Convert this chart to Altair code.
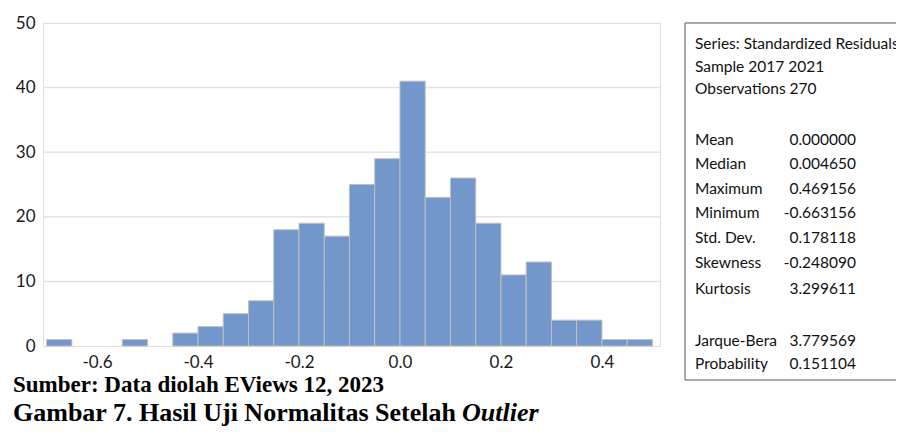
import altair as alt
import pandas as pd

# Histogram data (bin start, count), bin width 0.05
bin_start = [-0.70, -0.65, -0.60, -0.55, -0.50, -0.45, -0.40, -0.35, -0.30, -0.25,
             -0.20, -0.15, -0.10, -0.05, 0.00, 0.05, 0.10, 0.15, 0.20, 0.25,
             0.30, 0.35, 0.40, 0.45]
counts = [1, 0, 0, 1, 0, 2, 3, 5, 7, 18,
          19, 17, 25, 29, 41, 23, 26, 19, 11, 13,
          4, 4, 1, 1]
bin_width = 0.05

x_ticks = [-0.6, -0.4, -0.2, 0.0, 0.2, 0.4]
y_ticks = [0, 10, 20, 30, 40, 50]
grid_vals = [10, 20, 30, 40]

stat_labels = ["Series: Standardized Residuals", "Sample 2017 2021", "Observations 270",
               "Mean", "Median", "Maximum", "Minimum", "Std. Dev.", "Skewness", "Kurtosis",
               "Jarque-Bera", "Probability"]
stat_values = ["", "", "", "0.000000", "0.004650", "0.469156", "-0.663156", "0.178118",
               "-0.248090", "3.299611", "3.779569", "0.151104"]
stat_rows_y = [21, 44, 66, 117, 141, 166, 190, 215, 240, 266, 318, 341]

caption1 = "Sumber: Data diolah EViews 12, 2023"
caption2 = "Gambar 7. Hasil Uji Normalitas Setelah "
caption2_italic = "Outlier"

W, H = 617, 323
FONT = "Lato"

hist = pd.DataFrame({
    "start": bin_start,
    "end": [s + bin_width for s in bin_start],
    "count": counts,
})
hist = hist[hist["count"] > 0]

xscale = alt.Scale(domain=[-0.707, 0.515], nice=False, zero=False)
yscale = alt.Scale(domain=[0, 50], nice=False)

grid = alt.Chart(pd.DataFrame({"g": grid_vals})).mark_rule(
    color="#E4E4E4", strokeWidth=1.5
).encode(
    y=alt.Y("g:Q", scale=yscale, axis=None),
    x=alt.value(0), x2=alt.value(W),
)

hyphen_label = "datum.value < 0 ? '-' + format(abs(datum.value), '.1f') : format(datum.value, '.1f')"

bars = alt.Chart(hist).mark_rect(
    color="#7396CB", stroke="#BFBFBF", strokeWidth=1
).encode(
    x=alt.X("start:Q", scale=xscale,
            axis=alt.Axis(values=x_ticks, labelExpr=hyphen_label, title=None, grid=False,
                          domain=False, ticks=False, labelFont=FONT, labelFontSize=17,
                          labelColor="#1a1a1a", labelPadding=8)),
    x2="end:Q",
    y=alt.Y("count:Q", scale=yscale,
            axis=alt.Axis(values=y_ticks, title=None, grid=False, domain=False,
                          ticks=False, labelFont=FONT, labelFontSize=17,
                          labelColor="#1a1a1a", labelPadding=8)),
    y2=alt.datum(0),
)

one = pd.DataFrame({"a": [0]})
box = alt.Chart(one).mark_rect(fill="white", fillOpacity=0, stroke="#555555",
                              strokeWidth=1).encode(
    x=alt.value(642), x2=alt.value(890), y=alt.value(0), y2=alt.value(357)
)

stats = pd.DataFrame({"label": stat_labels, "value": stat_values, "yy": stat_rows_y})
pix = alt.Scale(domain=[0, H], range=[0, H])
stat_lab = alt.Chart(stats).mark_text(
    align="left", baseline="middle", font=FONT, fontSize=15.5, color="#111111"
).encode(x=alt.value(652), y=alt.Y("yy:Q", scale=pix, axis=None), text="label:N")
stat_val = alt.Chart(stats).mark_text(
    align="right", baseline="middle", font=FONT, fontSize=15.5, color="#111111"
).encode(x=alt.value(813), y=alt.Y("yy:Q", scale=pix, axis=None), text="value:N")

cap1 = alt.Chart(one).mark_text(
    align="left", baseline="alphabetic", font="Liberation Serif", fontSize=23,
    fontWeight="bold", color="black"
).encode(x=alt.value(-30), y=alt.value(369), text=alt.value(caption1))
cap2 = alt.Chart(one).mark_text(
    align="left", baseline="alphabetic", font="Liberation Serif", fontSize=26,
    fontWeight="bold", color="black"
).encode(x=alt.value(-30), y=alt.value(398), text=alt.value(caption2))
cap3 = alt.Chart(one).mark_text(
    align="left", baseline="alphabetic", font="Liberation Serif", fontSize=26,
    fontWeight="bold", fontStyle="italic", color="black"
).encode(x=alt.value(419), y=alt.value(398), text=alt.value(caption2_italic))

chart = alt.layer(grid, bars, box, stat_lab, stat_val, cap1, cap2, cap3).resolve_scale(
    y="independent"
).properties(
    width=W, height=H,
    autosize=alt.AutoSizeParams(type="none"),
    padding={"left": 35, "top": 15, "right": 236, "bottom": 81},
).configure_view(stroke=None).configure(background="white")

chart.save("out.html", embed_options={"renderer": "svg", "actions": False})
